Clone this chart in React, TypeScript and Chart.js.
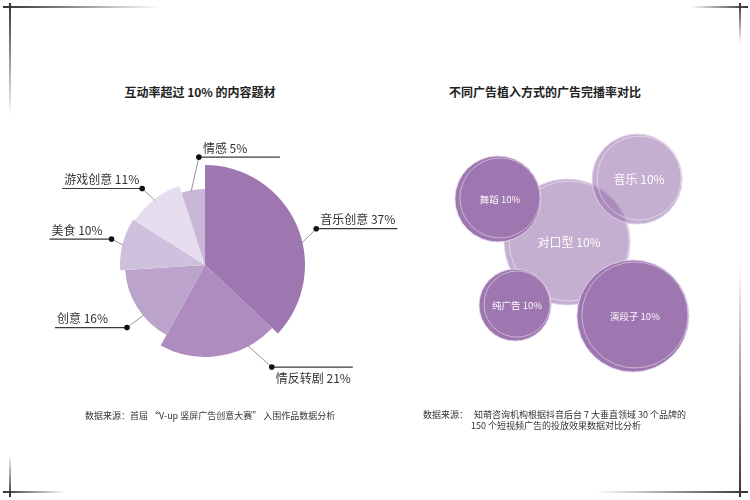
import React, { useEffect, useRef } from "react";
import { Chart, registerables } from "chart.js";

Chart.register(...registerables);

// ---------------- data ----------------
const pieCategories = ["音乐创意", "情反转剧", "创意", "美食", "游戏创意", "情感"];
const pieValues = [37, 21, 16, 10, 11, 5];

const bubbleCategories = ["对口型", "音乐", "舞蹈", "纯广告", "演段子"];
const bubbleValues = [10, 10, 10, 10, 10];
const bubbleX = [45.4, 70.4, 20.7, 26.8, 68.9];
const bubbleY = [56.4, 78.9, 71.8, 33.9, 30.0];
const bubbleSize = [63, 45, 43, 36, 56];

const leftTitle = "互动率超过 10% 的内容题材";
const rightTitle = "不同广告植入方式的广告完播率对比";
const leftSource = "数据来源：首届 “V-up 竖屏广告创意大赛” 入围作品数据分析";
const rightSource1 = "数据来源：   知萌咨询机构根据抖音后台 7 大垂直领域 30 个品牌的";
const rightSource2 = "150 个短视频广告的投放效果数据对比分析";

// ---------------- styles ----------------
const FONT = '"Noto Sans CJK SC", "Noto Sans", sans-serif';
const PIE_COLORS = ["#9e76b0", "#ae8cc0", "#bba3cc", "#cfc0de", "#e6ddee", "#c9b6d7"];
const SLICE_RADIUS = [1, 0.92, 0.8, 0.85, 0.83, 0.76];
const LABEL_LAYOUT = [
  { startFrac: 0.58, frac: 0.54, gap: 17, len: 81, side: "right", below: false },
  { startFrac: 0.25, frac: 0.18, gap: 30, len: 81, side: "right", below: true },
  { startFrac: 0.38, frac: 0.39, gap: 20, len: 72, side: "left", below: false },
  { startFrac: 0.48, frac: 0.53, gap: 12, len: 62, side: "left", below: false },
  { startFrac: 0.5, frac: 0.46, gap: 16, len: 80, side: "left", below: false },
  { startFrac: 0.41, frac: 0.82, gap: 32, len: 81, side: "right", below: false },
];
const BUBBLE_COLORS = [
  "rgba(150,110,170,0.55)",
  "rgba(150,110,170,0.55)",
  "#9e76b0",
  "#9e76b0",
  "#9e76b0",
];
const BUBBLE_FONT = [12, 12, 9.5, 9.5, 9.5];

const varRadiusPlugin = {
  id: "varRadius",
  afterDatasetsUpdate(chart: any) {
    const meta = chart.getDatasetMeta(0);
    const base = meta.controller.outerRadius;
    meta.data.forEach((arc: any, i: number) => {
      arc.outerRadius = base * SLICE_RADIUS[i];
    });
  },
};

const pieLabelPlugin = {
  id: "pieLabels",
  afterDraw(chart: any) {
    const ctx = chart.ctx as CanvasRenderingContext2D;
    const meta = chart.getDatasetMeta(0);
    meta.data.forEach((arc: any, i: number) => {
      const L = LABEL_LAYOUT[i];
      const { x, y, startAngle, endAngle, outerRadius } = arc;
      const span = endAngle - startAngle;
      const a0 = startAngle + span * L.startFrac;
      const a1 = startAngle + span * L.frac;
      const sx = x + (outerRadius - 1) * Math.cos(a0);
      const sy = y + (outerRadius - 1) * Math.sin(a0);
      const dx = x + (outerRadius + L.gap) * Math.cos(a1);
      const dy = y + (outerRadius + L.gap) * Math.sin(a1);
      ctx.save();
      ctx.strokeStyle = "#8a8a8a";
      ctx.lineWidth = 0.9;
      ctx.beginPath();
      ctx.moveTo(sx, sy);
      ctx.lineTo(dx, dy);
      ctx.stroke();
      const ex = L.side === "right" ? dx + L.len : dx - L.len;
      ctx.strokeStyle = "#3a3a3a";
      ctx.lineWidth = 1.2;
      ctx.beginPath();
      ctx.moveTo(dx, dy);
      ctx.lineTo(ex, dy);
      ctx.stroke();
      ctx.fillStyle = "#111";
      ctx.beginPath();
      ctx.arc(dx, dy, 2.8, 0, Math.PI * 2);
      ctx.fill();
      ctx.fillStyle = "#333";
      ctx.font = `12px ${FONT}`;
      ctx.textAlign = "left";
      ctx.textBaseline = "middle";
      const tx = L.side === "right" ? dx + 4 : ex + 2;
      const ty = L.below ? dy + 11 : dy - 9;
      ctx.fillText(`${pieCategories[i]} ${pieValues[i]}%`, tx, ty);
      ctx.restore();
    });
  },
};

const bubbleDecorPlugin = {
  id: "bubbleDecor",
  afterDatasetDraw(chart: any, args: any) {
    const i = args.index;
    const el = args.meta.data[0];
    if (!el) return;
    const ctx = chart.ctx as CanvasRenderingContext2D;
    const r = el.options.radius;
    ctx.save();
    ctx.strokeStyle = "rgba(255,255,255,0.45)";
    ctx.lineWidth = 1;
    ctx.beginPath();
    ctx.arc(el.x + 2, el.y - 1, r - 3, 0, Math.PI * 2);
    ctx.stroke();
    ctx.fillStyle = "rgba(255,255,255,0.96)";
    ctx.font = `${BUBBLE_FONT[i]}px ${FONT}`;
    ctx.textAlign = "center";
    ctx.textBaseline = "middle";
    ctx.fillText(`${bubbleCategories[i]} ${bubbleValues[i]}%`, el.x + 2, el.y);
    ctx.restore();
  },
};

function PieChart() {
  const ref = useRef<HTMLCanvasElement>(null);
  useEffect(() => {
    const chart = new Chart(ref.current!, {
      type: "pie",
      data: {
        labels: pieCategories,
        datasets: [{ data: pieValues, backgroundColor: PIE_COLORS, borderWidth: 0 }],
      },
      options: {
        responsive: false,
        animation: false,
        events: [],
        layout: { padding: { left: 65, right: 105, top: 45, bottom: 45 } },
        plugins: { legend: { display: false }, tooltip: { enabled: false } },
      },
      plugins: [varRadiusPlugin, pieLabelPlugin],
    } as any);
    return () => chart.destroy();
  }, []);
  return (
    <canvas
      ref={ref}
      width={370}
      height={290}
      style={{ position: "absolute", left: 40, top: 120, width: 370, height: 290 }}
    />
  );
}

function BubbleChart() {
  const ref = useRef<HTMLCanvasElement>(null);
  useEffect(() => {
    const n = bubbleCategories.length;
    const chart = new Chart(ref.current!, {
      type: "bubble",
      data: {
        datasets: bubbleCategories.map((c, i) => ({
          label: c,
          data: [{ x: bubbleX[i], y: bubbleY[i], r: bubbleSize[i] }],
          backgroundColor: BUBBLE_COLORS[i],
          borderColor: "rgba(225,212,234,0.9)",
          borderWidth: 1,
          order: n - i,
          clip: false,
        })),
      },
      options: {
        responsive: false,
        animation: false,
        events: [],
        layout: { padding: 0, autoPadding: false },
        scales: {
          x: { type: "linear", min: 0, max: 100, display: false },
          y: { type: "linear", min: 0, max: 100, display: false },
        },
        plugins: { legend: { display: false }, tooltip: { enabled: false } },
      },
      plugins: [bubbleDecorPlugin],
    } as any);
    return () => chart.destroy();
  }, []);
  return (
    <canvas
      ref={ref}
      width={280}
      height={280}
      style={{ position: "absolute", left: 440, top: 120, width: 280, height: 280 }}
    />
  );
}

function Line(props: { left: number; top: number; w: number; h: number; dir: string }) {
  return (
    <div
      style={{
        position: "absolute",
        left: props.left,
        top: props.top,
        width: props.w,
        height: props.h,
        background: `linear-gradient(${props.dir}, #333, rgba(51,51,51,0))`,
      }}
    />
  );
}

export default function App() {
  const text: React.CSSProperties = {
    position: "absolute",
    fontFamily: FONT,
    whiteSpace: "pre",
  };
  return (
    <div
      style={{
        position: "absolute",
        left: 0,
        top: 0,
        width: 750,
        height: 500,
        background: "#fff",
        overflow: "hidden",
      }}
    >
      <Line left={3} top={6} w={157} h={2} dir="to right" />
      <Line left={9} top={3} w={2} h={114} dir="to bottom" />
      <Line left={690} top={6} w={58} h={2} dir="to left" />
      <Line left={739} top={3} w={2} h={40} dir="to bottom" />
      <Line left={3} top={491} w={62} h={2} dir="to right" />
      <Line left={9} top={455} w={2} h={42} dir="to top" />
      <Line left={596} top={491} w={152} h={2} dir="to left" />
      <Line left={739} top={265} w={2} h={232} dir="to top" />

      <div
        style={{
          ...text,
          left: 50,
          width: 300,
          top: 84,
          lineHeight: "16px",
          textAlign: "center",
          fontSize: 12,
          fontWeight: 700,
          color: "#222",
        }}
      >
        {leftTitle}
      </div>
      <div
        style={{
          ...text,
          left: 395,
          width: 300,
          top: 84,
          lineHeight: "16px",
          textAlign: "center",
          fontSize: 12,
          fontWeight: 700,
          color: "#222",
        }}
      >
        {rightTitle}
      </div>

      <PieChart />
      <BubbleChart />

      <div style={{ ...text, left: 85, top: 410, lineHeight: "12px", fontSize: 9, color: "#333" }}>
        {leftSource}
      </div>
      <div style={{ ...text, left: 423, top: 409, lineHeight: "11px", fontSize: 9, color: "#333" }}>
        {rightSource1}
      </div>
      <div style={{ ...text, left: 471, top: 420, lineHeight: "11px", fontSize: 9, color: "#333" }}>
        {rightSource2}
      </div>
    </div>
  );
}
